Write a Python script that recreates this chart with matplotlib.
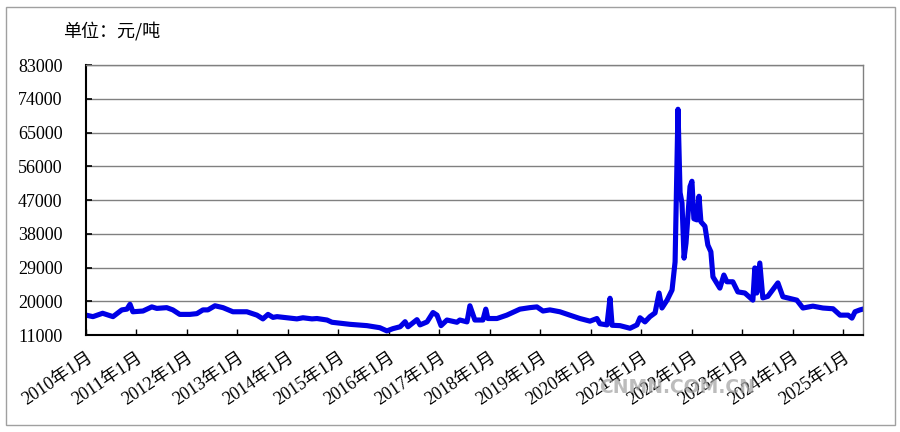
import matplotlib
matplotlib.use('Agg')
import matplotlib.pyplot as plt
from matplotlib.patches import Rectangle
import numpy as np

plt.rcParams['font.family'] = ['Liberation Serif', 'Noto Sans CJK SC', 'DejaVu Sans']

# price series (元/吨)
dates = ['2010-01-01', '2010-02-20', '2010-05-01', '2010-07-15', '2010-09-17', '2010-10-24',
         '2010-11-15', '2010-12-06', '2011-02-17', '2011-04-22', '2011-05-28', '2011-08-08',
         '2011-09-21', '2011-11-10', '2012-01-22', '2012-03-13', '2012-04-26', '2012-06-01',
         '2012-07-22', '2012-09-18', '2012-11-29', '2013-03-10', '2013-05-22', '2013-07-04',
         '2013-08-10', '2013-09-15', '2013-10-14', '2013-12-25', '2014-03-07', '2014-04-20',
         '2014-06-24', '2014-07-30', '2014-10-11', '2014-11-16', '2015-03-26', '2015-07-27',
         '2015-10-28', '2015-12-18', '2016-01-31', '2016-03-23', '2016-04-28', '2016-05-19',
         '2016-07-23', '2016-08-14', '2016-10-04', '2016-11-16', '2016-12-15', '2017-01-13',
         '2017-02-25', '2017-05-08', '2017-05-29', '2017-07-20', '2017-08-10', '2017-09-15',
         '2017-11-12', '2017-12-03', '2017-12-18', '2018-02-22', '2018-05-04', '2018-08-07',
         '2018-10-18', '2018-12-08', '2019-01-21', '2019-03-12', '2019-05-23', '2019-08-03',
         '2019-10-15', '2019-12-27', '2020-02-15', '2020-03-08', '2020-04-28', '2020-05-20',
         '2020-06-04', '2020-07-31', '2020-10-12', '2020-12-01', '2020-12-23', '2021-01-28',
         '2021-03-05', '2021-04-11', '2021-05-10', '2021-05-31', '2021-07-07', '2021-08-12',
         '2021-09-03', '2021-09-24', '2021-10-09', '2021-10-23', '2021-11-07', '2021-11-21',
         '2021-12-20', '2022-01-03', '2022-01-17', '2022-02-08', '2022-02-23', '2022-03-09',
         '2022-04-07', '2022-04-28', '2022-05-20', '2022-06-04', '2022-07-24', '2022-08-22',
         '2022-09-13', '2022-10-26', '2022-12-01', '2023-01-21', '2023-03-20', '2023-04-03',
         '2023-04-17', '2023-05-09', '2023-05-31', '2023-07-06', '2023-09-17', '2023-10-23',
         '2024-02-01', '2024-03-16', '2024-05-27', '2024-08-08', '2024-10-20', '2024-12-10',
         '2025-02-06', '2025-03-06', '2025-03-28', '2025-05-03', '2025-05-24']
prices = [16300, 15900, 16800, 15900, 17700, 17900,
          19200, 17200, 17400, 18500, 18100, 18300,
          17700, 16500, 16500, 16700, 17700, 17700,
          18800, 18300, 17200, 17200, 16300, 15300,
          16500, 15700, 15900, 15600, 15300, 15600,
          15300, 15400, 15000, 14400, 13850, 13500,
          12950, 12100, 12700, 13200, 14550, 13200,
          15100, 13700, 14500, 17000, 16300, 13500,
          15000, 14400, 15000, 14500, 18800, 15000,
          15000, 17900, 15400, 15400, 16300, 17900,
          18300, 18500, 17400, 17700, 17200, 16300,
          15400, 14700, 15400, 14000, 13700, 20800,
          13600, 13500, 12800, 13700, 15600, 14500,
          15900, 16900, 22200, 18200, 20300, 23000,
          30500, 71200, 49000, 46200, 31500, 35500,
          50600, 52000, 42000, 41700, 48000, 41200,
          40000, 35000, 33200, 26500, 23500, 27000,
          25200, 25200, 22500, 22200, 20300, 28900,
          22200, 30200, 20900, 21300, 24900, 21200,
          20300, 18200, 18700, 18200, 18000, 16300,
          16300, 15500, 17200, 17700, 17900]

years = list(range(2010, 2026))
tick_labels = [f'{y}年1月' for y in years]
y_ticks = [11000, 20000, 29000, 38000, 47000, 56000, 65000, 74000, 83000]

x = np.array(dates, dtype='datetime64[D]')

fig = plt.figure(figsize=(9, 4.32), dpi=100)
ax = fig.add_axes([0.0956, 0.2245, 0.8633, 0.625])

ax.plot(x, prices, color='#0000e6', linewidth=3.7, solid_joinstyle='round')

ax.set_xlim(np.datetime64('2010-01-01'), np.datetime64('2025-05-25'))
ax.set_ylim(11000, 83000)
ax.set_yticks(y_ticks)
ax.set_yticklabels([str(v) for v in y_ticks])
ax.set_xticks([np.datetime64(f'{y}-01-01') for y in years])
ax.set_xticklabels(tick_labels, rotation=34, ha='right', va='top', rotation_mode='anchor')

ax.grid(axis='y', color='#808080', linewidth=1)
ax.set_axisbelow(True)
ax.tick_params(axis='y', direction='in', length=4, width=1.2, pad=17, labelsize=13)
ax.tick_params(axis='x', direction='in', length=4, width=1, pad=10, labelsize=13)

for side in ['left', 'bottom']:
    ax.spines[side].set_color('black')
    ax.spines[side].set_linewidth(1.5)
for side in ['top', 'right']:
    ax.spines[side].set_color('#808080')
    ax.spines[side].set_linewidth(1)

fig.text(0.07, 0.928, '单位：元/吨', fontsize=13, family=['Noto Sans CJK SC'], va='center')
fig.text(0.752, 0.102, 'CNMN.COM.CN', fontsize=13.5, family=['DejaVu Sans'], color='#a0a0a0',
         alpha=0.7, ha='center', va='center', fontweight='bold')

fig.patches.append(Rectangle((0.007, 0.016), 0.987, 0.968, transform=fig.transFigure,
                             fill=False, edgecolor='#a0a0a0', linewidth=1))

fig.savefig('out.png', dpi=100)
